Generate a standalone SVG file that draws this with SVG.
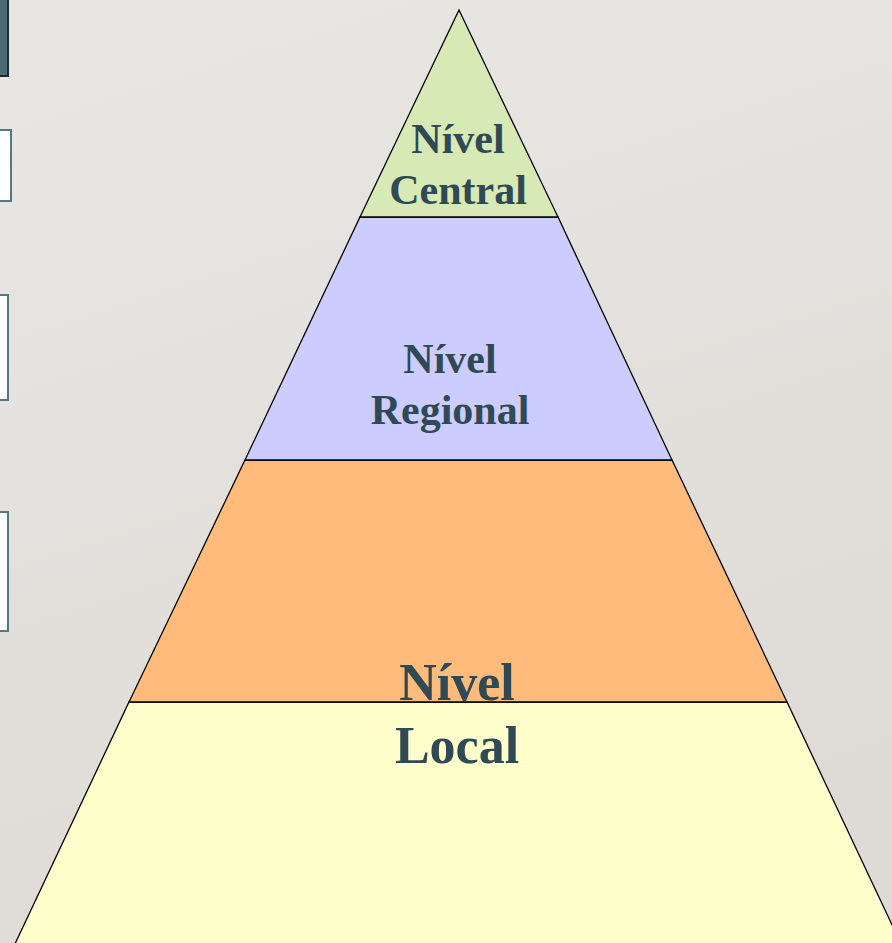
<svg xmlns="http://www.w3.org/2000/svg" width="892" height="943" viewBox="0 0 892 943">
  <defs>
    <linearGradient id="bg" x1="0" y1="0" x2="0.3" y2="1">
      <stop offset="0" stop-color="#e9e7e4"/>
      <stop offset="1" stop-color="#dedbd6"/>
    </linearGradient>
    <style>
      .lvl { stroke: #000000; stroke-width: 1.3; stroke-linejoin: miter; }
      .lbl { font-family: "Liberation Serif", "Times New Roman", serif; font-weight: bold; fill: #2f4a54; text-anchor: middle; }
      .side { fill: #ffffff; stroke: #587682; stroke-width: 2; }
    </style>
  </defs>
  <rect x="0" y="0" width="892" height="943" fill="url(#bg)"/>

  <g id="side-boxes">
    <rect x="-5" y="-5" width="13" height="81" fill="#4b6b76" stroke="#1f2b30" stroke-width="2"/>
    <rect class="side" x="-5" y="130" width="16" height="71"/>
    <rect class="side" x="-5" y="295" width="13" height="105"/>
    <rect class="side" x="-5" y="512" width="13" height="119"/>
  </g>

  <g id="nivel-local">
    <polygon class="lvl" fill="#ffffcc" points="129,702 787,702 902,946 14,946"/>
  </g>
  <g id="nivel-orange">
    <polygon class="lvl" fill="#ffbb7c" points="245,460 672,460 787,702 129,702"/>
  </g>
  <g id="nivel-regional">
    <polygon class="lvl" fill="#ccccff" points="360,217 558,217 672,460 245,460"/>
    <text class="lbl" x="450" y="373" font-size="42">Nível</text>
    <text class="lbl" x="450" y="424" font-size="42">Regional</text>
  </g>
  <g id="nivel-central">
    <polygon class="lvl" fill="#d7e9b4" points="459,10 558,217 360,217"/>
    <text class="lbl" x="458" y="153" font-size="42">Nível</text>
    <text class="lbl" x="458" y="204" font-size="42">Central</text>
  </g>
  <g id="local-label">
    <text class="lbl" x="457" y="700" font-size="52">Nível</text>
    <text class="lbl" x="457" y="763" font-size="52">Local</text>
  </g>
  <g id="connectors"/>
</svg>
